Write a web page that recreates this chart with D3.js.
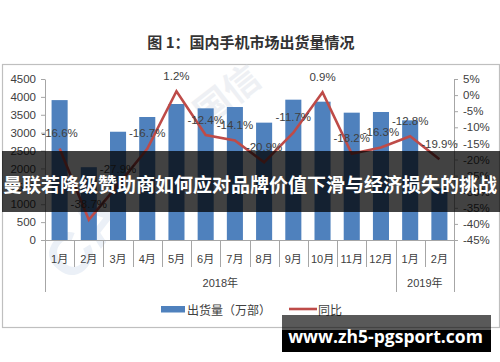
<!DOCTYPE html>
<html><head><meta charset="utf-8">
<script src="https://cdn.jsdelivr.net/npm/d3@7/dist/d3.min.js"></script>
<style>
html,body{margin:0;padding:0;background:#fff;}
svg{display:block;}
text{font-family:"Liberation Sans","Noto Sans CJK SC",sans-serif;}
</style></head>
<body>
<svg id="c" width="500" height="362"></svg>
<script>
const title = "图 1：国内手机市场出货量情况";
const months = ["1月","2月","3月","4月","5月","6月","7月","8月","9月","10月","11月","12月","1月","2月"];
const shipments = [3910, 2035, 3026, 3438, 3801, 3680, 3717, 3280, 3922, 3866, 3559, 3578, 3345, 1450];
const yoy = [-16.6, -38.7, -27.9, -16.7, 1.2, -12.4, -14.1, -20.9, -11.7, 0.9, -18.2, -16.3, -12.8, -19.9];
const yearLabels = ["2018年", "2019年"];
const yearSpans = [12, 2];
const leftTicks = [0, 500, 1000, 1500, 2000, 2500, 3000, 3500, 4000, 4500];
const rightTicks = [-45, -40, -35, -30, -25, -20, -15, -10, -5, 0, 5];
const legendLabels = ["出货量（万部）", "同比"];
const bannerText = "曼联若降级赞助商如何应对品牌价值下滑与经济损失的挑战";
const siteText = "www.zh5-pgsport.com";

const svg = d3.select("#c");
const barColor = "#4F81BD", lineColor = "#BE4B48", txt = "#404040", axisCol = "#a6a6a6";
const L = 45, R = 454, T = 79, B = 240;

const x = d3.scaleBand().domain(d3.range(months.length)).range([L, R]).paddingInner(0.45).paddingOuter(0.225);
const step = x.step();
const yL = d3.scaleLinear().domain([0, 4500]).range([B, T]);
const yR = d3.scaleLinear().domain([-45, 5]).range([B, T]);

// title
svg.append("text").attr("x", 251).attr("y", 41).attr("text-anchor", "middle")
  .attr("dominant-baseline", "central").attr("font-size", 15).attr("font-weight", "bold")
  .attr("fill", "#333").style("font-family", "'Noto Sans CJK SC',sans-serif").text(title);

// chart frame
svg.append("rect").attr("x", 2.5).attr("y", 64.5).attr("width", 497).attr("height", 263)
  .attr("fill", "none").attr("stroke", "#bfbfbf").attr("stroke-width", 1.2);

// faint watermark
svg.append("text").attr("transform", "translate(100,250) rotate(-52)").attr("text-anchor", "middle")
  .attr("font-size", 60).attr("font-weight", "bold").attr("fill", "#d3dfee").attr("opacity", 0.45).text("CA");
svg.append("text").attr("transform", "translate(235,105) rotate(-38)").attr("text-anchor", "middle")
  .attr("font-size", 36).attr("font-weight", "bold").attr("fill", "#d6dce4").attr("opacity", 0.4)
  .style("font-family", "'Noto Sans CJK SC',sans-serif").text("国信");

// bars
svg.append("g").selectAll("rect").data(shipments).join("rect")
  .attr("x", (d, i) => x(i)).attr("width", x.bandwidth())
  .attr("y", d => yL(d)).attr("height", d => yL(0) - yL(d)).attr("fill", barColor);

// left axis
const gl = svg.append("g").attr("transform", `translate(${L},0)`)
  .call(d3.axisLeft(yL).tickValues(leftTicks).tickSize(4).tickSizeOuter(0).tickPadding(5).tickFormat(d3.format("d")));
gl.select(".domain").attr("stroke", axisCol);
gl.selectAll(".tick line").attr("stroke", axisCol);
gl.selectAll(".tick text").attr("font-size", 11.5).attr("fill", txt).style("font-family", "'Liberation Sans',sans-serif");

// right axis
const gr = svg.append("g").attr("transform", `translate(${R},0)`)
  .call(d3.axisRight(yR).tickValues(rightTicks).tickSize(4).tickSizeOuter(0).tickPadding(5).tickFormat(d => d + "%"));
gr.select(".domain").attr("stroke", axisCol);
gr.selectAll(".tick line").attr("stroke", axisCol);
gr.selectAll(".tick text").attr("font-size", 11.5).attr("fill", txt).style("font-family", "'Liberation Sans',sans-serif");

// category axis
svg.append("line").attr("x1", L).attr("x2", R).attr("y1", B + 0.5).attr("y2", B + 0.5).attr("stroke", axisCol);
const bounds = d3.range(months.length + 1);
const longB = [0];
let acc = 0; yearSpans.forEach(s => { acc += s; longB.push(acc); });
svg.append("g").selectAll("line").data(bounds).join("line")
  .attr("x1", i => Math.round(L + i * step) + 0.5).attr("x2", i => Math.round(L + i * step) + 0.5)
  .attr("y1", B).attr("y2", i => longB.includes(i) ? 292 : 267).attr("stroke", axisCol);
svg.append("g").selectAll("text").data(months).join("text")
  .attr("x", (d, i) => x(i) + x.bandwidth() / 2).attr("y", 259).attr("text-anchor", "middle")
  .attr("dominant-baseline", "central").attr("font-size", 11).attr("fill", txt).text(d => d);
let start = 0;
yearLabels.forEach((lab, k) => {
  const s = start, e = start + yearSpans[k];
  svg.append("text").attr("x", L + (s + e) / 2 * step).attr("y", 283).attr("text-anchor", "middle")
    .attr("dominant-baseline", "central").attr("font-size", 11).attr("fill", txt).text(lab);
  start = e;
});

// line
const line = d3.line().x((d, i) => x(i) + x.bandwidth() / 2).y(d => yR(d));
svg.append("path").datum(yoy).attr("d", line).attr("fill", "none")
  .attr("stroke", lineColor).attr("stroke-width", 2.6).attr("stroke-linejoin", "miter");
svg.append("g").selectAll("text").data(yoy).join("text")
  .attr("x", (d, i) => x(i) + x.bandwidth() / 2).attr("y", d => yR(d) - 15.5)
  .attr("text-anchor", "middle").attr("dominant-baseline", "central")
  .attr("font-size", 11.5).attr("fill", txt).text(d => d.toFixed(1) + "%");

// legend
svg.append("rect").attr("x", 161).attr("y", 306).attr("width", 24).attr("height", 6.5).attr("fill", barColor);
svg.append("text").attr("x", 187).attr("y", 309).attr("dominant-baseline", "central")
  .attr("font-size", 12).attr("fill", txt).style("font-family", "'Noto Sans CJK SC',sans-serif").text(legendLabels[0]);
svg.append("line").attr("x1", 289).attr("x2", 317).attr("y1", 309).attr("y2", 309)
  .attr("stroke", lineColor).attr("stroke-width", 2.6);
svg.append("text").attr("x", 318).attr("y", 309).attr("dominant-baseline", "central")
  .attr("font-size", 12).attr("fill", txt).style("font-family", "'Noto Sans CJK SC',sans-serif").text(legendLabels[1]);

// banner overlay
svg.append("rect").attr("x", 2).attr("y", 151).attr("width", 498).attr("height", 61)
  .attr("fill", "#000").attr("opacity", 0.74);
svg.append("text").attr("x", 250).attr("y", 183).attr("text-anchor", "middle").attr("dominant-baseline", "central")
  .attr("font-size", 19).attr("font-weight", "bold").attr("fill", "#fff")
  .attr("textLength", 494).attr("lengthAdjust", "spacingAndGlyphs")
  .style("font-family", "'Noto Sans CJK SC',sans-serif").text(bannerText);

// site watermark
svg.append("rect").attr("x", 282).attr("y", 315).attr("width", 209).attr("height", 15).attr("fill", "#000").attr("opacity", 0.65);
svg.append("rect").attr("x", 282).attr("y", 330).attr("width", 209).attr("height", 22).attr("fill", "#000");
svg.append("text").attr("x", 385.5).attr("y", 336).attr("text-anchor", "middle").attr("dominant-baseline", "central")
  .attr("font-size", 17.5).attr("font-weight", "bold").attr("fill", "#fff")
  .style("font-family", "'Open Sans','DejaVu Sans',sans-serif").text(siteText);
</script>
</body></html>
